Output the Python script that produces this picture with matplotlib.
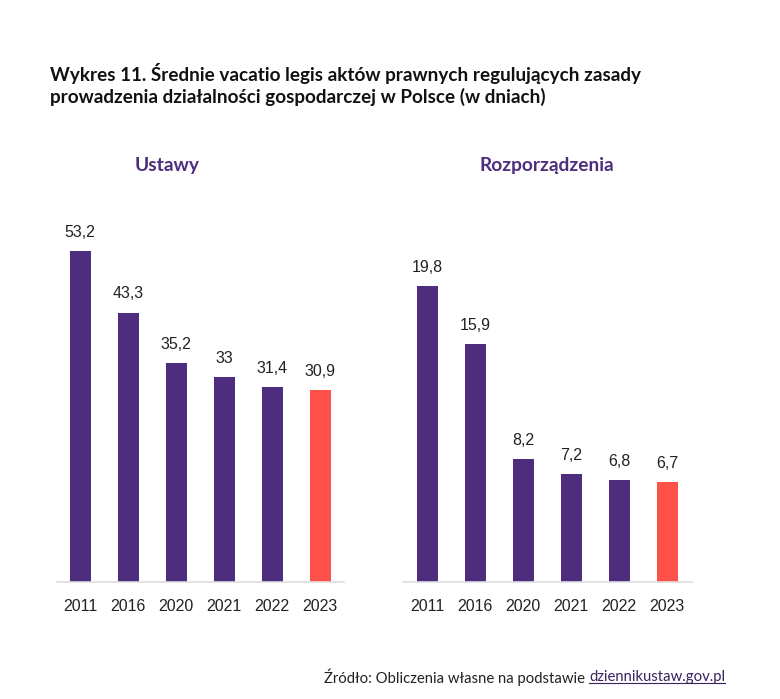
import matplotlib
matplotlib.use("Agg")
import matplotlib.pyplot as plt

years = ["2011", "2016", "2020", "2021", "2022", "2023"]
ustawy = [53.2, 43.3, 35.2, 33.0, 31.4, 30.9]
rozporzadzenia = [19.8, 15.9, 8.2, 7.2, 6.8, 6.7]
ustawy_labels = ["53,2", "43,3", "35,2", "33", "31,4", "30,9"]
rozp_labels = ["19,8", "15,9", "8,2", "7,2", "6,8", "6,7"]

PURPLE = "#4E2D7E"
RED = "#FF5149"
W, H = 780, 699

fig = plt.figure(figsize=(W / 100, H / 100), dpi=100)
fig.patch.set_facecolor("white")

base_px = 582
top_px = 200


def make_panel(left_px, right_px, first_center_px, values, labels, scale):
    ax = fig.add_axes([left_px / W, 1 - base_px / H, (right_px - left_px) / W, (base_px - top_px) / H])
    step = 48.0
    x0 = (left_px - first_center_px) / step
    x1 = (right_px - first_center_px) / step
    ax.set_xlim(x0, x1)
    ax.set_ylim(0, (base_px - top_px) / scale)
    colors = [PURPLE] * (len(values) - 1) + [RED]
    xs = list(range(len(values)))
    bars = ax.bar(xs, values, width=21 / step, color=colors)
    ax.bar_label(bars, labels=labels, padding=8, fontsize=11.5, family="Liberation Sans", color="#222222")
    for s in ["top", "left", "right"]:
        ax.spines[s].set_visible(False)
    ax.spines["bottom"].set_color("#DDDDDD")
    ax.spines["bottom"].set_linewidth(1.2)
    ax.set_yticks([])
    ax.set_xticks(xs)
    ax.set_xticklabels(years, fontsize=11.5, family="Liberation Sans", color="#222222")
    ax.tick_params(axis="x", length=0, pad=12)
    return ax


make_panel(57, 344, 80, ustawy, ustawy_labels, 331 / 53.2)
make_panel(403, 692, 427, rozporzadzenia, rozp_labels, 296 / 19.8)

fig.text(50 / W, 1 - 74 / H,
         "Wykres 11. Średnie vacatio legis aktów prawnych regulujących zasady",
         fontsize=13.55, fontweight="bold", family="Lato", color="#111111", va="center", ha="left")
fig.text(50 / W, 1 - 97 / H,
         "prowadzenia działalności gospodarczej w Polsce (w dniach)",
         fontsize=13.55, fontweight="bold", family="Lato", color="#111111", va="center", ha="left")

fig.text(167 / W, 1 - 166 / H, "Ustawy", fontsize=13.8, fontweight="bold",
         family="Lato", color=PURPLE, ha="center", va="center")
fig.text(547 / W, 1 - 166 / H, "Rozporządzenia", fontsize=13.8, fontweight="bold",
         family="Lato", color=PURPLE, ha="center", va="center")

link = fig.text(725 / W, 1 - 677 / H, "dziennikustaw.gov.pl", fontsize=10.7,
                family="Lato", color="#3A2160", ha="right", va="center")
fig.canvas.draw()
bb = link.get_window_extent()
fig.text(bb.x0 / W, 1 - 677 / H, "Źródło: Obliczenia własne na podstawie ",
         fontsize=10.7, family="Lato", color="#222222", ha="right", va="center")
fig.add_artist(plt.Line2D([bb.x0 / W, bb.x1 / W], [(bb.y0 + 1) / H, (bb.y0 + 1) / H],
                          color="#3A2160", linewidth=0.8))

fig.savefig("out.png", dpi=100, facecolor="white")
